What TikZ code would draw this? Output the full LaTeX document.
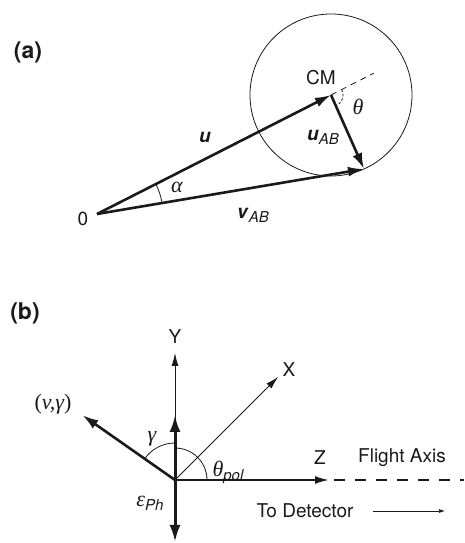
\documentclass[tikz,border=0pt]{standalone}
\usepackage{fontspec}
\setmainfont{TeX Gyre Heros}
\newfontfamily\greekfont{Liberation Serif}
\usetikzlibrary{arrows.meta, calc}
\definecolor{ink}{HTML}{1A1A1A}
\newcommand{\gk}[1]{{\fontsize{22}{24}\greekfont\itshape #1}}
\newcommand{\sub}[1]{\raisebox{-4pt}{\fontsize{15}{16}\selectfont\itshape #1}}
\tikzset{
  vec/.style={line width=2.6pt, ink, -{Latex[length=16pt, width=10pt]}},
  dvec/.style={line width=3pt, ink, {Latex[length=17pt, width=11pt]}-{Latex[length=17pt, width=11pt]}},
  axis/.style={line width=0.9pt, ink, -{Latex[length=13pt, width=7pt]}},
  zaxis/.style={line width=1.8pt, ink, -{Latex[length=14pt, width=8pt]}},
  thinline/.style={line width=0.8pt, ink},
  guide/.style={line width=0.8pt, ink, dash pattern=on 6pt off 5pt},
  flight/.style={line width=1.6pt, ink, dash pattern=on 11pt off 10pt},
  smallarrow/.style={line width=0.7pt, ink, -{Latex[length=6pt, width=4pt]}},
  lab/.style={font=\fontsize{19}{22}\selectfont, inner sep=0pt, ink},
  panel/.style={font=\fontsize{23}{27}\selectfont\bfseries, inner sep=0pt, ink},
}
\begin{document}
\begin{tikzpicture}[x=1pt, y=1pt]
\useasboundingbox (0,0) rectangle (464,543);

% (a)
\coordinate (O) at (97,329);
\coordinate (CM) at (331,448);
\coordinate (B) at ($(CM)+(-66:81)$);
\coordinate (Ext) at ($(CM)+(27:48)$);

\draw[thinline] (CM) circle[radius=81];
\draw[guide] (CM) -- (Ext);
\draw[guide, dash pattern=on 2.5pt off 2pt] (CM) ++(27:12) arc[start angle=27, end angle=-66, radius=12];
\draw[thinline] (O) ++(9.6:66) arc[start angle=9.6, end angle=27, radius=66];
\draw[vec] (O) -- (CM);
\draw[vec] (O) -- (B);
\draw[vec] (CM) -- (B);

\node[panel] (pa) at (28,491) {(a)};
\node[lab] (origin) at (83,324) {0};
\node[lab] (cmlab) at (321,465) {CM};
\node[lab] (ulab) at (205,406) {\textbf{\textit{u}}};
\node[lab] (uablab) at (323,406) {\textbf{\textit{u}}\sub{AB}};
\node[lab] (vablab) at (253,328) {\textbf{\textit{v}}\sub{AB}};
\node[lab] (alab) at (177,356) {\gk{α}};
\node[lab] (tlab) at (358,436) {\gk{θ}};

% (b)
\coordinate (P) at (175,63);
\coordinate (Yend) at (175,190);
\coordinate (Xend) at ($(P)+(45:146)$);
\coordinate (Zend) at (329,63);
\coordinate (Fend) at (464,63);
\coordinate (Vend) at ($(P)+(145:113)$);
\coordinate (Eup) at (175,128);
\coordinate (Edown) at (175,1);
\coordinate (Tstart) at (373,32);
\coordinate (Tend) at (445,32);

\draw[axis] (P) -- (Yend);
\draw[axis] (P) -- (Xend);
\draw[zaxis] (P) -- (Zend);
\draw[flight] ($(Zend)+(5,0)$) -- (Fend);
\draw[thinline] (P) ++(90:37) arc[start angle=90, end angle=145, radius=37];
\draw[thinline] (P) ++(0:32) arc[start angle=0, end angle=90, radius=32];
\draw[vec] (P) -- (Vend);
\draw[dvec] (Edown) -- (Eup);
\draw[smallarrow] (Tstart) -- (Tend);

\node[panel] (pb) at (25,230) {(b)};
\node[lab] (ylab) at (175,206) {Y};
\node[lab] (xlab) at (289,173) {X};
\node[lab] (zlab) at (320,85) {Z};
\node[lab] (flab) at (402,85) {Flight Axis};
\node[lab] (dlab) at (305,32) {To Detector};
\node[lab] (vglab) at (53,139) {\gk{\upshape(\itshape v,γ\upshape)}};
\node[lab] (glab) at (152,104) {\gk{γ}};
\node[lab] (tplab) at (228,71) {\gk{θ}\sub{pol}};
\node[lab] (elab) at (150,40) {\gk{ε}\sub{Ph}};
\end{tikzpicture}
\end{document}
